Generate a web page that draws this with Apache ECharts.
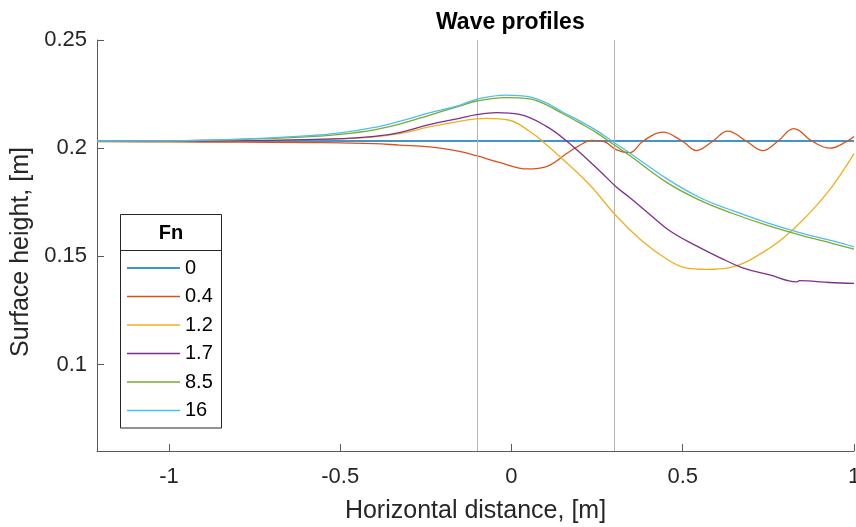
<!DOCTYPE html>
<html>
<head>
<meta charset="utf-8">
<script src="https://cdn.jsdelivr.net/npm/echarts@6/dist/echarts.min.js"></script>
<style>
  html, body { margin: 0; padding: 0; background: #ffffff; }
  #chart { width: 856px; height: 527px; }
</style>
</head>
<body>
<div id="chart"></div>
<script>
// Froude numbers shown in the legend
const fnLabels = ['0', '0.4', '1.2', '1.7', '8.5', '16'];

// Surface height [m] against horizontal distance [m] for each Froude number
const profileFn0 = [[-1.21, 0.2033], [1.0, 0.2033]];

const profileFn04 = [
  [-1.21, 0.2030], [-1.0, 0.2029], [-0.8, 0.2028], [-0.6, 0.2026], [-0.5, 0.2024],
  [-0.4, 0.2021], [-0.327, 0.2014], [-0.24, 0.2006], [-0.152, 0.1985], [-0.102, 0.1965],
  [-0.035, 0.1934], [0.047, 0.1904], [0.102, 0.1915], [0.161, 0.1975], [0.199, 0.2013],
  [0.234, 0.2036], [0.272, 0.2029], [0.307, 0.1992], [0.345, 0.1979], [0.383, 0.2031],
  [0.441, 0.2074], [0.5, 0.2031], [0.54, 0.1989], [0.587, 0.2031], [0.631, 0.2079],
  [0.687, 0.2031], [0.733, 0.1989], [0.777, 0.2031], [0.824, 0.2090], [0.879, 0.2031],
  [0.929, 0.2000], [0.979, 0.2031], [1.0, 0.2054]
];

const profileFn12 = [
  [-1.21, 0.2033], [-1.0, 0.2033], [-0.8, 0.2034], [-0.6, 0.2039], [-0.5, 0.2043],
  [-0.4, 0.2052], [-0.327, 0.2067], [-0.24, 0.2098], [-0.152, 0.2124], [-0.102, 0.2135],
  [-0.073, 0.2138], [-0.006, 0.2129], [0.053, 0.2078], [0.091, 0.2031], [0.149, 0.1950],
  [0.228, 0.1831], [0.307, 0.1685], [0.374, 0.1581], [0.441, 0.1500], [0.505, 0.1448],
  [0.57, 0.1440], [0.637, 0.1448], [0.733, 0.1517], [0.818, 0.1618], [0.92, 0.1790],
  [1.0, 0.1975]
];

const profileFn17 = [
  [-1.21, 0.2033], [-1.0, 0.2033], [-0.8, 0.2034], [-0.6, 0.2039], [-0.5, 0.2044],
  [-0.4, 0.2054], [-0.327, 0.2072], [-0.24, 0.2109], [-0.152, 0.2138], [-0.102, 0.2155],
  [-0.044, 0.2164], [0.023, 0.2156], [0.102, 0.2101], [0.161, 0.2033], [0.257, 0.1896],
  [0.307, 0.1819], [0.345, 0.1772], [0.403, 0.1695], [0.462, 0.1618], [0.54, 0.1548],
  [0.608, 0.1494], [0.675, 0.1447], [0.754, 0.1414], [0.833, 0.1382], [0.841, 0.1388],
  [0.929, 0.1379], [1.0, 0.1375]
];

const profileFn85 = [
  [-1.21, 0.2033], [-1.0, 0.2034], [-0.8, 0.2040], [-0.6, 0.2052], [-0.5, 0.2064],
  [-0.4, 0.2085], [-0.327, 0.2111], [-0.24, 0.2152], [-0.152, 0.2194], [-0.102, 0.2218],
  [-0.015, 0.2234], [0.053, 0.2228], [0.102, 0.2200], [0.149, 0.2160], [0.199, 0.2117],
  [0.248, 0.2072], [0.295, 0.2020], [0.345, 0.1966], [0.453, 0.1842], [0.549, 0.1760],
  [0.646, 0.1698], [0.745, 0.1644], [0.841, 0.1599], [0.938, 0.1559], [1.0, 0.1533]
];

const profileFn16 = [
  [-1.21, 0.2033], [-1.0, 0.2034], [-0.8, 0.2041], [-0.6, 0.2057], [-0.5, 0.2071],
  [-0.4, 0.2096], [-0.327, 0.2124], [-0.24, 0.2163], [-0.152, 0.2198], [-0.102, 0.2226],
  [-0.015, 0.2245], [0.053, 0.2237], [0.102, 0.2209], [0.149, 0.2167], [0.199, 0.2126],
  [0.248, 0.2082], [0.295, 0.2031], [0.345, 0.1978], [0.453, 0.1859], [0.549, 0.1772],
  [0.646, 0.1711], [0.745, 0.1656], [0.841, 0.1610], [0.938, 0.1571], [1.0, 0.1544]
];

// Axis ticks and the two vertical reference positions
const xTicks = [-1, -0.5, 0, 0.5, 1];
const yTicks = [0.1, 0.15, 0.2, 0.25];
const guideX = [-0.1, 0.305];

const profiles = [profileFn0, profileFn04, profileFn12, profileFn17, profileFn85, profileFn16];
const colors = ['#0072BD', '#D95319', '#EDB120', '#7E2F8E', '#77AC30', '#4DBEEE'];

const FONT = '"Liberation Sans", Arial, Helvetica, sans-serif';
const INK = '#262626';
const AXIS = '#5a5a5a';

const chart = echarts.init(document.getElementById('chart'), null, { renderer: 'canvas' });

const series = profiles.map((data, i) => ({
  name: fnLabels[i],
  type: 'line',
  data: data,
  symbol: 'none',
  smooth: 0.4,
  lineStyle: { color: colors[i], width: 1.3 },
  itemStyle: { color: colors[i] },
  z: 3 + i
}));

// vertical guide lines
series.unshift({
  name: 'guides',
  type: 'line',
  data: [],
  silent: true,
  z: 2,
  markLine: {
    silent: true,
    symbol: 'none',
    label: { show: false },
    lineStyle: { color: '#b4b4b4', width: 1, type: 'solid' },
    data: guideX.map(v => ({ xAxis: v }))
  }
});

chart.setOption({
  animation: false,
  backgroundColor: '#ffffff',
  textStyle: { fontFamily: FONT },
  title: {
    text: 'Wave profiles',
    left: 431,
    top: 6,
    textStyle: { fontFamily: FONT, fontSize: 23, fontWeight: 'bold', color: '#000000' }
  },
  grid: { left: 97, right: 2, top: 40, bottom: 76, containLabel: false, outerBoundsMode: 'none' },
  xAxis: {
    type: 'value',
    min: -1.21,
    max: 1,
    name: 'Horizontal distance, [m]',
    nameLocation: 'middle',
    nameGap: 48,
    nameTextStyle: { fontFamily: FONT, fontSize: 25, color: INK },
    axisLine: { show: true, onZero: false, lineStyle: { color: AXIS, width: 1 } },
    axisTick: { show: true, inside: true, length: 7, customValues: xTicks, lineStyle: { color: AXIS } },
    axisLabel: {
      customValues: xTicks,
      margin: 15,
      fontFamily: FONT, fontSize: 22, color: INK,
      formatter: v => String(v)
    },
    splitLine: { show: false }
  },
  yAxis: {
    type: 'value',
    min: 0.06,
    max: 0.25,
    name: 'Surface height, [m]',
    nameLocation: 'middle',
    nameGap: 57,
    nameTextStyle: { fontFamily: FONT, fontSize: 25, color: INK, padding: [0, 13, 0, 0] },
    axisLine: { show: true, onZero: false, lineStyle: { color: AXIS, width: 1 } },
    axisTick: { show: true, inside: true, length: 7, customValues: yTicks, lineStyle: { color: AXIS } },
    axisLabel: {
      customValues: yTicks,
      margin: 10,
      fontFamily: FONT, fontSize: 22, color: INK,
      formatter: v => String(v)
    },
    splitLine: { show: false }
  },
  legend: {
    data: fnLabels,
    orient: 'vertical',
    left: 127,
    top: 258,
    padding: 0,
    icon: 'rect',
    itemWidth: 53,
    itemHeight: 1.3,
    itemGap: 8.5,
    selectedMode: false,
    textStyle: { fontFamily: FONT, fontSize: 20, lineHeight: 20, color: '#000000' }
  },
  graphic: [
    {
      type: 'rect',
      z: 1,
      shape: { x: 120.5, y: 214.5, width: 101, height: 213.5 },
      style: { fill: '#ffffff', stroke: INK, lineWidth: 1 }
    },
    {
      type: 'line',
      z: 1,
      shape: { x1: 120.5, y1: 250.5, x2: 221.5, y2: 250.5 },
      style: { stroke: INK, lineWidth: 1 }
    },
    {
      type: 'text',
      z: 5,
      x: 171,
      y: 233,
      style: {
        text: 'Fn',
        fontFamily: FONT,
        fontSize: 20,
        fontWeight: 'bold',
        fill: '#000000',
        align: 'center',
        verticalAlign: 'middle'
      }
    }
  ],
  series: series
});
</script>
</body>
</html>
